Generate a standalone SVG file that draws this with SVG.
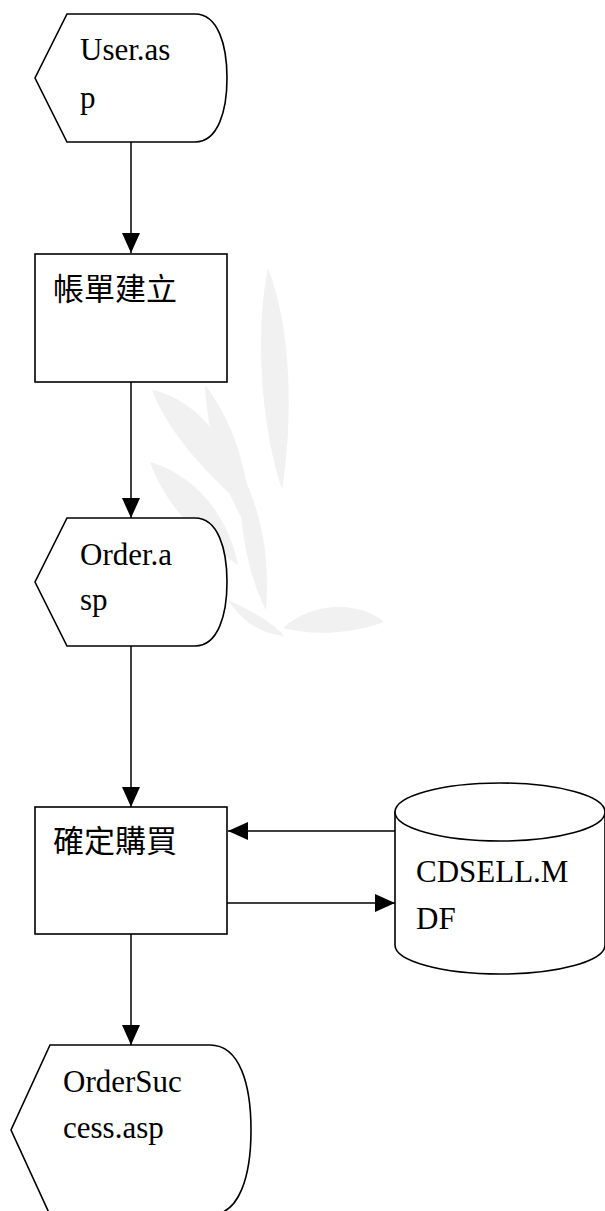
<svg xmlns="http://www.w3.org/2000/svg" width="605" height="1211" viewBox="0 0 605 1211">
<defs>
<style>
.shape{fill:#fff;stroke:#000;stroke-width:1.6}
.conn{fill:none;stroke:#000;stroke-width:1.5}
.lat{font-size:31px;fill:#000}
.cjk{font-size:31px;fill:#000}
.wm{fill:#f1f1f1;stroke:none}
</style>
<marker id="arr" markerUnits="userSpaceOnUse" markerWidth="20" markerHeight="18" refX="20" refY="9" orient="auto">
<path d="M0,0 L20,9 L0,18 Z" fill="#000"/>
</marker>
</defs>
<rect width="605" height="1211" fill="#fff"/>
<g id="watermark">
<path class="wm" d="M268,268 C292,330 293,420 282,490 C262,430 254,335 268,268 Z"/>
<path class="wm" d="M152,390 C200,400 236,450 242,505 C205,472 168,432 152,390 Z"/>
<path class="wm" d="M205,385 C232,420 250,470 252,535 C228,500 208,445 205,385 Z"/>
<path class="wm" d="M150,462 C195,475 228,515 238,565 C200,540 165,505 150,462 Z"/>
<path class="wm" d="M240,470 C262,510 270,560 266,610 C248,575 238,525 240,470 Z"/>
<path class="wm" d="M283,628 C310,602 360,600 384,622 C352,634 312,636 283,628 Z"/>
<path class="wm" d="M228,600 C250,610 272,622 284,636 C262,634 242,622 228,600 Z"/>
</g>
<g id="connectors">
<line class="conn" x1="131" y1="134" x2="131" y2="253" marker-end="url(#arr)"/>
<line class="conn" x1="131" y1="375" x2="131" y2="518" marker-end="url(#arr)"/>
<line class="conn" x1="131" y1="638" x2="131" y2="807" marker-end="url(#arr)"/>
<line class="conn" x1="395" y1="831" x2="228" y2="831" marker-end="url(#arr)"/>
<line class="conn" x1="227" y1="903" x2="395" y2="903" marker-end="url(#arr)"/>
<line class="conn" x1="131" y1="926" x2="131" y2="1045" marker-end="url(#arr)"/>
</g>
<g id="node-user">
<path class="shape" d="M67,14 L195,14 C218,14 227,45 227,78 C227,111 218,142 195,142 L67,142 L35,78 Z"/>
<text class="lat" font-family="'Liberation Serif', 'DejaVu Serif', serif" x="80" y="60">User.as</text>
<text class="lat" font-family="'Liberation Serif', 'DejaVu Serif', serif" x="80" y="108">p</text>
</g>
<g id="node-create">
<rect class="shape" x="35" y="254" width="192" height="128"/>
<text class="cjk" font-family="'Noto Sans CJK TC', 'Noto Sans CJK SC', sans-serif" x="53" y="300">帳單建立</text>
</g>
<g id="node-order">
<path class="shape" d="M67,518 L195,518 C218,518 227,549 227,582 C227,615 218,646 195,646 L67,646 L35,582 Z"/>
<text class="lat" font-family="'Liberation Serif', 'DejaVu Serif', serif" x="80" y="565">Order.a</text>
<text class="lat" font-family="'Liberation Serif', 'DejaVu Serif', serif" x="80" y="610">sp</text>
</g>
<g id="node-buy">
<rect class="shape" x="35" y="807" width="192" height="127"/>
<text class="cjk" font-family="'Noto Sans CJK TC', 'Noto Sans CJK SC', sans-serif" x="53" y="852">確定購買</text>
</g>
<g id="node-db">
<path class="shape" d="M395,812 L395,945 A105,29 0 0 0 605,945 L605,812 Z"/>
<ellipse class="shape" cx="500" cy="812" rx="105" ry="29"/>
<text class="lat" font-family="'Liberation Serif', 'DejaVu Serif', serif" x="416" y="882">CDSELL.M</text>
<text class="lat" font-family="'Liberation Serif', 'DejaVu Serif', serif" x="416" y="929">DF</text>
</g>
<g id="node-success">
<path class="shape" d="M50,1045 L210,1045 C240,1045 251,1085 251,1130 C251,1175 240,1215 210,1215 L50,1215 L11,1130 Z"/>
<text class="lat" font-family="'Liberation Serif', 'DejaVu Serif', serif" x="63" y="1092">OrderSuc</text>
<text class="lat" font-family="'Liberation Serif', 'DejaVu Serif', serif" x="63" y="1138">cess.asp</text>
</g>
</svg>
